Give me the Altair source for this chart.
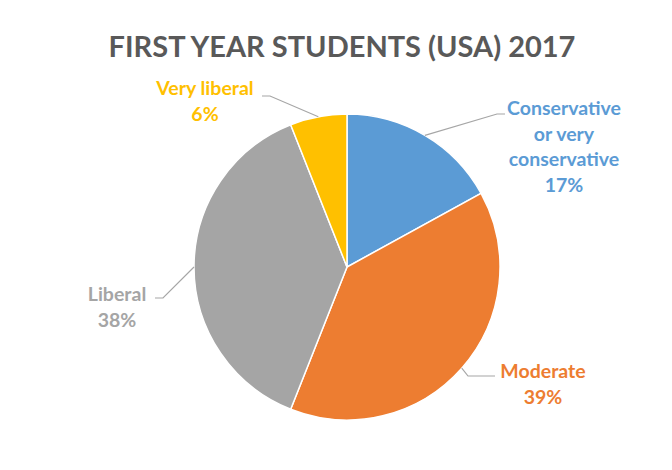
import math
import altair as alt
import pandas as pd

# ---- data ----
categories = ["Conservative or very conservative", "Moderate", "Liberal", "Very liberal"]
label_lines = [["Conservative", "or very", "conservative"], ["Moderate"], ["Liberal"], ["Very liberal"]]
values = [17, 39, 38, 6]
colors = ["#5B9BD5", "#ED7D31", "#A5A5A5", "#FFC000"]
title_text = "FIRST YEAR STUDENTS (USA) 2017"

# ---- layout (page pixel coordinates) ----
W, H = 656, 450
CX, CY, R = 347, 267, 153
# label first-line centre and the elbow of its leader line
label_pos = {
    "Conservative or very conservative": (564, 109),
    "Moderate": (543, 372),
    "Liberal": (117, 295),
    "Very liberal": (205, 89),
}
elbow = {
    "Conservative or very conservative": [(505, 114), (497, 114)],
    "Moderate": [(495, 376), (468, 376)],
    "Liberal": [(155, 298), (163, 298)],
    "Very liberal": [(262, 96), (270, 96)],
}

df = pd.DataFrame({"cat": categories, "value": values, "idx": range(len(categories))})
total = sum(values)
df["label"] = [
    "\n".join(lines + [f"{round(v / total * 100)}%"]) for lines, v in zip(label_lines, values)
]
df["lx"] = [label_pos[c][0] for c in categories]
df["ly"] = [label_pos[c][1] for c in categories]

# leader lines: from label elbow to slice edge at mid angle
rows = []
cum = 0
for c, v in zip(categories, values):
    mid = (cum + v / 2) / total * 2 * math.pi
    cum += v
    ex, ey = CX + R * math.sin(mid), CY - R * math.cos(mid)
    pts = elbow[c] + [(ex, ey)]
    for k, (px, py) in enumerate(pts):
        rows.append({"cat": c, "k": k, "px": px, "py": py})
lines_df = pd.DataFrame(rows)

color_scale = alt.Scale(domain=categories, range=colors)
xs = alt.Scale(domain=[8, 8 + W], range=[0, W])
ys = alt.Scale(domain=[8, 8 + H], range=[0, H])

pie = alt.Chart(df).mark_arc(outerRadius=R, stroke="white", strokeWidth=1.5).encode(
    theta=alt.Theta("value:Q", stack=True),
    color=alt.Color("cat:N", scale=color_scale, legend=None),
    order=alt.Order("idx:Q"),
    x=alt.value(CX - 8),
    y=alt.value(CY - 8),
)

leaders = alt.Chart(lines_df).mark_line(color="#A6A6A6", strokeWidth=1.2).encode(
    x=alt.X("px:Q", scale=xs, axis=None),
    y=alt.Y("py:Q", scale=ys, axis=None),
    detail="cat:N",
    order="k:Q",
)

labels = alt.Chart(df).mark_text(
    font="Lato", fontWeight="bold", fontSize=19.5, lineBreak="\n", lineHeight=25.5,
    align="center", baseline="middle",
).encode(
    x=alt.X("lx:Q", scale=xs, axis=None),
    y=alt.Y("ly:Q", scale=ys, axis=None),
    text="label:N",
    color=alt.Color("cat:N", scale=color_scale, legend=None),
)

title = alt.Chart(pd.DataFrame({"t": [title_text], "tx": [342], "ty": [57]})).mark_text(
    font="Lato", fontWeight="bold", fontSize=29, color="#595959",
    align="center", baseline="alphabetic",
).encode(
    x=alt.X("tx:Q", scale=xs, axis=None),
    y=alt.Y("ty:Q", scale=ys, axis=None),
    text="t:N",
)

chart = alt.layer(pie, leaders, labels, title).properties(
    width=W, height=H, padding=0, autosize=alt.AutoSizeParams(type="none"), background="white"
).configure_view(stroke=None)

chart.save("out.html", embed_options={"renderer": "svg", "actions": False})
